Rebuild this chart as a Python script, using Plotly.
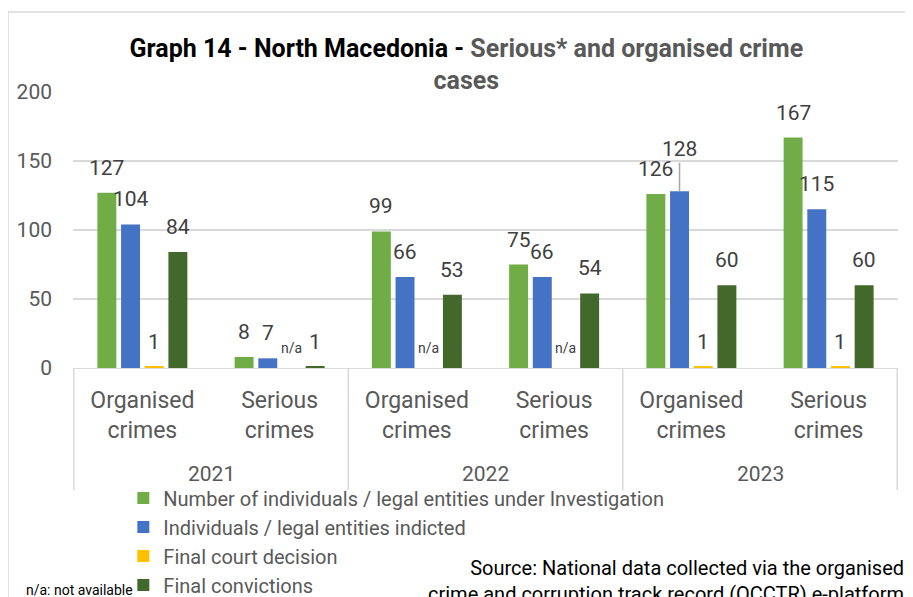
import plotly.graph_objects as go

years = ["2021", "2021", "2022", "2022", "2023", "2023"]
crime_types = ["Organised<br>crimes", "Serious<br>crimes"] * 3
year_labels = ["2021", "2022", "2023"]

investigation = [127, 8, 99, 75, 126, 167]
indicted = [104, 7, 66, 66, 128, 115]
court_decision = [1, None, None, None, 1, 1]
convictions = [84, 1, 53, 54, 60, 60]

series = [
    ("Number of individuals / legal entities under Investigation", investigation, "#70AD47"),
    ("Individuals / legal entities indicted", indicted, "#4472C4"),
    ("Final court decision", court_decision, "#FFC000"),
    ("Final convictions", convictions, "#43682B"),
]

FONT = "Roboto, Arial, sans-serif"
GREY = "#595959"
LABEL = "#404040"
LINE = "#D9D9D9"
BARGAP = 0.31

keys = [f"{y} {c}" for y, c in zip(years, crime_types)]

fig = go.Figure()
for name, vals, color in series:
    fig.add_trace(go.Bar(
        x=keys, y=[0 if v is None else v for v in vals], name=name,
        marker=dict(color=color, line=dict(width=0)),
    ))

# data labels (Excel style, sitting a bit above the bars)
slot = (1 - BARGAP) / len(series)
for s, (name, vals, color) in enumerate(series):
    off = (s - (len(series) - 1) / 2) * slot
    for i, v in enumerate(vals):
        if v is None:
            fig.add_annotation(x=i + off, y=0, text="n/a", showarrow=False,
                               yshift=20, font=dict(size=14, color=LABEL))
        elif name.startswith("Individuals") and v == 128:
            # label moved up with a leader line
            fig.add_annotation(x=i + off, y=v, text=str(v), showarrow=True,
                               arrowhead=0, arrowwidth=1.5, arrowcolor="#A6A6A6",
                               ax=0, ay=-42, standoff=0, font=dict(size=21, color=LABEL))
        else:
            fig.add_annotation(x=i + off, y=v, text=str(v), showarrow=False,
                               yshift=25, font=dict(size=21, color=LABEL))

# page has an 8px body margin, so the plot box is offset by that
fig.update_layout(
    width=913, height=597,
    margin=dict(l=65, r=23, t=84, b=237, autoexpand=False),
    plot_bgcolor="white", paper_bgcolor="white",
    font=dict(family=FONT, color=GREY),
    barmode="group", bargap=BARGAP, bargroupgap=0.2,
    showlegend=True,
    legend=dict(
        orientation="v", x=0.061, xanchor="left", y=-0.40, yanchor="top",
        font=dict(size=20, color=GREY, family=FONT),
        tracegroupgap=0, itemwidth=30,
        bgcolor="rgba(0,0,0,0)",
    ),
    title=dict(
        text="<b>Graph 14 - North Macedonia - </b><b><span style='color:#595959'>Serious* and organised crime</span></b>"
             "<br><b><span style='color:#595959'>cases</span></b>",
        x=0.502, xref="container", xanchor="center",
        y=0.918, yref="container", yanchor="top",
        font=dict(size=25, color="black", family=FONT),
    ),
)

fig.update_yaxes(
    range=[0, 200], tickvals=[0, 50, 100, 150, 200],
    showgrid=True, gridcolor=LINE, gridwidth=2,
    zeroline=False, showline=False, automargin=False,
    tickfont=dict(size=21, color=GREY), ticklabelstandoff=20,
)
fig.update_xaxes(
    type="category", tickvals=keys, ticktext=crime_types,
    showline=True, linecolor=LINE, linewidth=1,
    tickfont=dict(size=23, color=GREY), ticks="", ticklabelstandoff=11,
    showgrid=False, automargin=False,
)

# year level of the axis, with dividers between the groups
y_div = (368 - 490) / 276
for k, yl in enumerate(year_labels):
    fig.add_annotation(x=2 * k + 0.5, xref="x", y=(368 - 474) / 276, yref="paper",
                       text=yl, showarrow=False, yanchor="middle",
                       font=dict(size=21, color=GREY))
for k in range(len(year_labels) + 1):
    fig.add_shape(type="line", xref="x", yref="paper", x0=2 * k - 0.5, x1=2 * k - 0.5,
                  y0=0, y1=y_div, line=dict(color=LINE, width=1.5))

# chart frame (top and left edges visible)
fx, fy = (8 - 73) / 825, (368 - 12) / 276
fig.add_shape(type="line", xref="paper", yref="paper", x0=fx, x1=1.1, y0=fy, y1=fy,
              line=dict(color=LINE, width=1.5))
fig.add_shape(type="line", xref="paper", yref="paper", x0=fx, x1=fx, y0=fy, y1=-1.0,
              line=dict(color=LINE, width=1.5))

fig.add_annotation(
    text="Source: National data collected via the organised<br>crime and corruption track record (OCCTR) e-platform",
    xref="paper", yref="paper", x=(906 - 73) / 825, y=(368 - 554) / 276,
    xanchor="right", yanchor="top", align="right", showarrow=False,
    font=dict(size=20, color="black", family=FONT),
)
fig.add_annotation(
    text="n/a: not available",
    xref="paper", yref="paper", x=(24 - 73) / 825, y=(368 - 590) / 276,
    xanchor="left", yanchor="middle", align="left", showarrow=False,
    font=dict(size=14, color="black", family=FONT),
)

fig.write_html("out.html")
